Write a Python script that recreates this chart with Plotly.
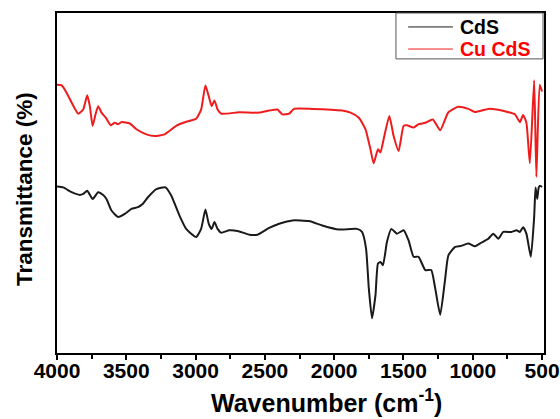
import plotly.graph_objects as go

# Wavenumber (cm-1) and transmittance (arb. %)
cds_wn = [4000, 3955, 3894, 3835, 3811, 3782, 3743, 3703, 3667, 3643, 3607, 3559, 3511, 3463,
          3416, 3380, 3344, 3283, 3217, 3176, 3116, 3068, 2996, 2960, 2929, 2905, 2884, 2864,
          2841, 2816, 2757, 2697, 2613, 2553, 2469, 2397, 2302, 2182, 2086, 1966, 1835, 1799,
          1770, 1750, 1727, 1702, 1684, 1666, 1648, 1619, 1587, 1547, 1499, 1463, 1427, 1391,
          1343, 1300, 1271, 1235, 1199, 1176, 1127, 1084, 1032, 984, 936, 888, 852, 816, 780,
          720, 684, 660, 637, 613, 581, 557, 547, 535, 524, 514, 500]
cds_t = [49.0, 48.7, 47.3, 46.5, 46.8, 47.7, 45.3, 47.3, 46.5, 45.3, 41.9, 40.0, 40.9, 42.4,
         42.9, 43.9, 45.8, 48.2, 48.7, 46.3, 40.4, 36.5, 34.1, 36.5, 42.2, 38.0, 36.5, 38.5,
         36.5, 35.4, 36.1, 35.9, 34.8, 34.8, 36.8, 38.0, 39.0, 38.8, 37.5, 36.3, 36.5, 35.6,
         30.7, 19.0, 10.2, 17.0, 26.3, 26.8, 25.8, 32.7, 36.5, 35.1, 36.1, 33.1, 28.3, 28.3,
         24.4, 24.4, 19.0, 11.2, 21.9, 28.7, 31.2, 31.5, 32.2, 31.4, 32.5, 33.6, 35.1, 33.6, 35.6,
         35.6, 36.1, 35.6, 37.0, 35.1, 28.3, 40.0, 48.7, 45.3, 48.7, 49.2, 48.8]

cucds_wn = [4000, 3966, 3930, 3894, 3847, 3811, 3782, 3763, 3743, 3722, 3703, 3679, 3648, 3612,
            3583, 3559, 3535, 3475, 3427, 3355, 3296, 3224, 3140, 3068, 2996, 2960, 2929, 2905,
            2884, 2864, 2841, 2816, 2685, 2541, 2469, 2410, 2374, 2325, 2290, 2158, 1942, 1882,
            1822, 1774, 1738, 1715, 1684, 1666, 1643, 1602, 1571, 1535, 1499, 1475, 1427, 1391,
            1343, 1288, 1235, 1176, 1104, 1032, 984, 888, 828, 768, 696, 660, 637, 613, 588, 557,
            541, 517, 500]
cucds_t = [78.9, 78.7, 76.5, 73.6, 70.4, 71.6, 75.8, 72.6, 66.8, 70.2, 72.6, 70.7, 69.2, 67.0,
           67.7, 67.3, 67.9, 67.5, 65.8, 64.3, 63.8, 64.3, 66.8, 68.0, 68.9, 71.6, 78.7, 75.5,
           72.6, 74.3, 71.6, 70.4, 70.8, 70.7, 71.3, 71.6, 70.2, 70.4, 71.8, 71.8, 71.3, 70.7,
           69.2, 65.8, 59.9, 55.8, 59.9, 59.0, 62.9, 69.7, 63.8, 59.4, 66.8, 67.0, 66.3, 67.3,
           67.7, 68.7, 65.5, 70.8, 72.4, 71.8, 70.9, 71.8, 71.6, 71.1, 70.2, 67.9, 70.0, 67.7, 55.8,
           80.2, 51.8, 78.9, 76.9]

x_ticks = [4000, 3500, 3000, 2500, 2000, 1500, 1000, 500]
x_range = [4000, 486]
series_names = ["CdS", "Cu CdS"]

FONT = "Liberation Sans, Arial, sans-serif"
BLACK_LINE = "#1a1a1a"
RED_LINE = "#ee1c1c"
LEG_TEXT = ["black", "#ff0000"]

fig = go.Figure()
fig.add_trace(go.Scatter(x=cds_wn, y=cds_t, mode="lines", name=series_names[0], showlegend=False,
                         line=dict(color=BLACK_LINE, width=2, shape="spline", smoothing=0.5)))
fig.add_trace(go.Scatter(x=cucds_wn, y=cucds_t, mode="lines", name=series_names[1], showlegend=False,
                         xaxis="x2",
                         line=dict(color=RED_LINE, width=2, shape="spline", smoothing=0.5)))

# Hand-drawn legend box (paper coordinates)
shapes = [dict(type="rect", xref="paper", yref="paper", x0=0.696, x1=0.998, y0=0.865, y1=1.0,
               line=dict(color="#555555", width=1), fillcolor="white", layer="above")]
annotations = []
for i, (nm, lc, y) in enumerate(zip(series_names, [BLACK_LINE, RED_LINE], [0.959, 0.894])):
    shapes.append(dict(type="line", xref="paper", yref="paper", x0=0.721, x1=0.813, y0=y, y1=y,
                       line=dict(color=lc, width=1), layer="above"))
    annotations.append(dict(xref="paper", yref="paper", x=0.823, y=y, xanchor="left",
                            yanchor="middle", showarrow=False, text=f"<b>{nm}</b>",
                            font=dict(size=19.5, family=FONT, color=LEG_TEXT[i])))

# Axis titles as annotations (positioned like the reference)
annotations.append(dict(xref="paper", yref="paper", x=0.554, y=0, yshift=-48,
                        xanchor="center", yanchor="middle", showarrow=False,
                        text="<b>Wavenumber (cm<sup>-1</sup>)</b>",
                        font=dict(size=25, family=FONT, color="black")))
annotations.append(dict(xref="paper", yref="paper", x=0, xshift=-33, y=0.482,
                        xanchor="center", yanchor="middle", showarrow=False, textangle=-90,
                        text="<b>Transmittance (%)</b>",
                        font=dict(size=22.5, family=FONT, color="black")))

fig.update_layout(
    width=560, height=419,
    margin=dict(l=57, r=16, t=13, b=66, autoexpand=False),
    plot_bgcolor="white", paper_bgcolor="white",
    font=dict(family=FONT, color="black"),
    showlegend=False,
    shapes=shapes,
    annotations=annotations,
    # axis carrying the ticks and frame
    xaxis=dict(range=x_range, tickvals=x_ticks, showticklabels=False,
               ticks="outside", ticklen=5, tickwidth=2, tickcolor="black",
               minor=dict(dtick=250, ticks="outside", ticklen=4, tickwidth=2, tickcolor="black"),
               showline=True, linewidth=2, linecolor="black", mirror=True,
               showgrid=False, zeroline=False, automargin=False),
    # overlaid axis carrying the tick labels (sits closer to the axis line)
    xaxis2=dict(range=x_range, overlaying="x", side="bottom", tickvals=x_ticks,
                ticktext=[str(v) for v in x_ticks], ticks="", showline=False,
                showgrid=False, zeroline=False, ticklabeloverflow="allow", automargin=False,
                ticklabelstandoff=3,
                tickfont=dict(size=21, family=FONT, color="black", weight="bold")),
    yaxis=dict(range=[0, 100], showticklabels=False, ticks="", automargin=False,
               showline=True, linewidth=2, linecolor="black", mirror=True,
               showgrid=False, zeroline=False),
)

fig.write_html("out.html")
